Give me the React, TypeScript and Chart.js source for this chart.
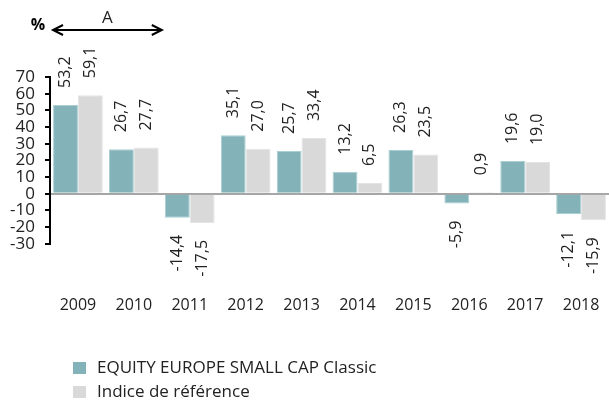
import React, { useEffect, useRef } from "react";
import { Chart, registerables } from "chart.js";

Chart.register(...registerables);

const categories = ["2009", "2010", "2011", "2012", "2013", "2014", "2015", "2016", "2017", "2018"];
const fundValues = [53.2, 26.7, -14.4, 35.1, 25.7, 13.2, 26.3, -5.9, 19.6, -12.1];
const indexValues = [59.1, 27.7, -17.5, 27.0, 33.4, 6.5, 23.5, 0.9, 19.0, -15.9];
const seriesNames = ["EQUITY EUROPE SMALL CAP Classic", "Indice de référence"];
const seriesColors = ["#83b3b9", "#d9d9d9"];
const periodLabel = "A";
const unitLabel = "%";
const yTicks = { min: -30, max: 70, step: 10 };

const FONT = "'Open Sans', sans-serif";

function fmt(v: number) {
  return v.toFixed(1).replace(".", ",");
}

const overlayPlugin = {
  id: "overlay",
  afterDatasetsDraw(chart: any) {
    const ctx = chart.ctx;
    ctx.save();
    ctx.fillStyle = "#222";
    ctx.font = `16px ${FONT}`;
    chart.data.datasets.forEach((ds: any, di: number) => {
      const meta = chart.getDatasetMeta(di);
      meta.data.forEach((bar: any, i: number) => {
        const v = ds.data[i];
        const gap = 17;
        ctx.save();
        if (v >= 0) {
          ctx.translate(bar.x, bar.y - gap);
          ctx.rotate(-Math.PI / 2);
          ctx.textAlign = "left";
        } else {
          ctx.translate(bar.x, bar.y + gap);
          ctx.rotate(-Math.PI / 2);
          ctx.textAlign = "right";
        }
        ctx.textBaseline = "middle";
        ctx.fillText(fmt(v), 0, 0);
        ctx.restore();
      });
    });
    ctx.restore();
  },
  afterDraw(chart: any) {
    const ctx = chart.ctx;
    const xs = chart.scales.x;
    const area = chart.chartArea;
    const half = (xs.getPixelForValue(1) - xs.getPixelForValue(0)) / 2;
    const x1 = xs.getPixelForValue(0) - half + 3;
    const x2 = xs.getPixelForValue(1) + half;
    const ay = 30;
    ctx.save();
    ctx.strokeStyle = "#000";
    ctx.fillStyle = "#000";
    ctx.lineWidth = 2;
    ctx.beginPath();
    ctx.moveTo(x1, ay);
    ctx.lineTo(x2, ay);
    ctx.stroke();
    ctx.beginPath();
    ctx.moveTo(x1 + 10, ay - 5);
    ctx.lineTo(x1, ay);
    ctx.lineTo(x1 + 10, ay + 5);
    ctx.moveTo(x2 - 10, ay - 5);
    ctx.lineTo(x2, ay);
    ctx.lineTo(x2 - 10, ay + 5);
    ctx.stroke();
    ctx.font = `17px ${FONT}`;
    ctx.textAlign = "center";
    ctx.textBaseline = "middle";
    ctx.fillStyle = "#222";
    ctx.fillText(periodLabel, (x1 + x2) / 2, 18);
    ctx.font = `bold 16px ${FONT}`;
    ctx.fillStyle = "#000";
    ctx.fillText(unitLabel, area.left - 12, 25);

    // legend
    const lx = area.left + 23;
    const ly0 = chart.height - 33;
    ctx.font = `17px ${FONT}`;
    ctx.textAlign = "left";
    seriesNames.forEach((name, i) => {
      const y = ly0 + i * 24;
      ctx.fillStyle = seriesColors[i];
      ctx.fillRect(lx, y - 6, 13, 12);
      ctx.fillStyle = "#222";
      ctx.fillText(name, lx + 24, y);
    });
    ctx.restore();
  },
};

export default function App() {
  const ref = useRef<HTMLCanvasElement>(null);
  useEffect(() => {
    document.body.style.margin = "0";
    const chart = new Chart(ref.current!, {
      type: "bar",
      data: {
        labels: categories,
        datasets: [
          { label: seriesNames[0], data: fundValues, backgroundColor: seriesColors[0], borderColor: "#a9cfd3", borderWidth: 1 },
          { label: seriesNames[1], data: indexValues, backgroundColor: seriesColors[1], borderColor: "#e4e4e4", borderWidth: 1 },
        ],
      },
      options: {
        responsive: false,
        animation: false,
        layout: { padding: { top: 77, right: 0, bottom: 84, left: 0 } },
        plugins: { legend: { display: false }, tooltip: { enabled: false } },
        datasets: { bar: { categoryPercentage: 0.89, barPercentage: 1 } },
        scales: {
          x: {
            grid: { display: true, drawOnChartArea: false, drawTicks: true, tickLength: 50, color: "rgba(0,0,0,0)" },
            border: { display: false },
            ticks: { padding: 2, color: "#222", font: { family: FONT, size: 16 } },
          },
          y: {
            min: yTicks.min,
            max: yTicks.max,
            ticks: { stepSize: yTicks.step, autoSkip: false, padding: 10, color: "#222", font: { family: FONT, size: 17 } },
            border: { display: true, color: "#000", width: 2 },
            grid: {
              color: (c: any) => (c.tick && c.tick.value === 0 ? "#a6a6a6" : "rgba(0,0,0,0)"),
              lineWidth: 2,
              tickColor: "#000",
              tickLength: 5,
              tickWidth: 2,
            },
            afterFit: (s: any) => {
              s.width = 50;
            },
          },
        },
      },
      plugins: [overlayPlugin],
    });
    return () => chart.destroy();
  }, []);
  return <canvas ref={ref} width={609} height={401} style={{ display: "block" }} />;
}
